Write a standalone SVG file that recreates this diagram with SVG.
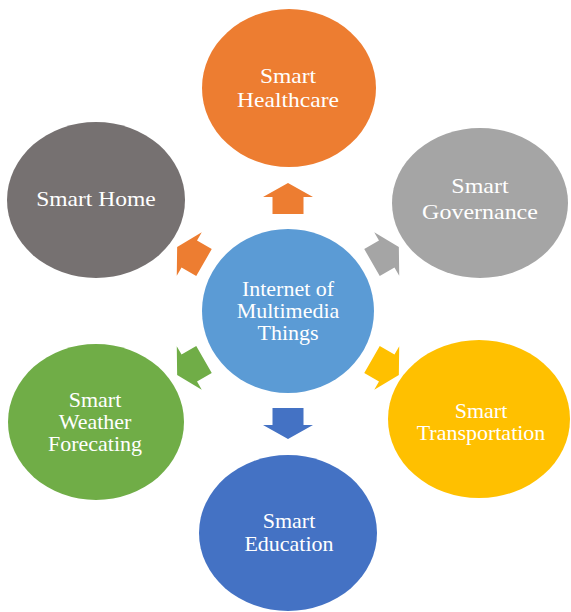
<svg xmlns="http://www.w3.org/2000/svg" xmlns:xlink="http://www.w3.org/1999/xlink" width="571" height="612" viewBox="0 0 571 612">
  <defs>
    <style>
      text { font-family: 'Liberation Serif', 'DejaVu Serif', serif; font-size: 20px; fill: #ffffff; text-anchor: middle; }
      .large { font-size: 21.4px; }
      .larger { font-size: 21.8px; }
    </style>
    <!-- block arrow pointing up, drawn relative to the hub centre -->
    <path id="block-arrow" d="M0,-128 L25,-114 L15.5,-114 L15.5,-97 L-15.5,-97 L-15.5,-114 L-25,-114 Z"/>
  </defs>

  <rect x="0" y="0" width="571" height="612" fill="#ffffff"/>

  <!-- arrows radiating from the hub -->
  <g id="connectors">
    <use xlink:href="#block-arrow" transform="translate(288,311)" fill="#ED7D31"/>
    <use xlink:href="#block-arrow" transform="translate(288,311) rotate(60)" fill="#A5A5A5"/>
    <use xlink:href="#block-arrow" transform="translate(288,311) rotate(120)" fill="#FFC000"/>
    <use xlink:href="#block-arrow" transform="translate(288,311) rotate(180)" fill="#4472C4"/>
    <use xlink:href="#block-arrow" transform="translate(288,311) rotate(240)" fill="#70AD47"/>
    <use xlink:href="#block-arrow" transform="translate(288,311) rotate(300)" fill="#ED7D31"/>
  </g>

  <!-- labels are widened slightly, like the oval shapes they sit in -->
  <g id="hub">
    <ellipse cx="288" cy="311" rx="86" ry="82" fill="#5B9BD5"/>
    <g transform="translate(288,0) scale(1.1,1)">
      <text x="0" y="296">Internet of</text>
      <text x="0" y="318">Multimedia</text>
      <text x="0" y="340">Things</text>
    </g>
  </g>

  <g id="smart-healthcare">
    <ellipse cx="289" cy="88" rx="87" ry="79" fill="#ED7D31"/>
    <g transform="translate(288,0) scale(1.1,1)">
      <text class="large" x="0" y="83">Smart</text>
      <text class="large" x="0" y="107">Healthcare</text>
    </g>
  </g>

  <g id="smart-governance">
    <ellipse cx="480" cy="203" rx="88" ry="75" fill="#A5A5A5"/>
    <g transform="translate(480,0) scale(1.1,1)">
      <text class="larger" x="0" y="193">Smart</text>
      <text class="larger" x="0" y="219">Governance</text>
    </g>
  </g>

  <g id="smart-transportation">
    <ellipse cx="479" cy="419" rx="91" ry="79" fill="#FFC000"/>
    <g transform="translate(481,0) scale(1.1,1)">
      <text x="0" y="418">Smart</text>
      <text x="0" y="440">Transportation</text>
    </g>
  </g>

  <g id="smart-education">
    <ellipse cx="288" cy="533" rx="89" ry="78" fill="#4472C4"/>
    <g transform="translate(289,0) scale(1.1,1)">
      <text x="0" y="528">Smart</text>
      <text x="0" y="551">Education</text>
    </g>
  </g>

  <g id="smart-weather-forecasting">
    <ellipse cx="96" cy="422" rx="88" ry="78" fill="#70AD47"/>
    <g transform="translate(95,0) scale(1.1,1)">
      <text x="0" y="407">Smart</text>
      <text x="0" y="429">Weather</text>
      <text x="0" y="451">Forecating</text>
    </g>
  </g>

  <g id="smart-home">
    <ellipse cx="96" cy="200" rx="89" ry="78" fill="#767171"/>
    <g transform="translate(96,0) scale(1.1,1)">
      <text class="large" x="0" y="206">Smart Home</text>
    </g>
  </g>
</svg>
